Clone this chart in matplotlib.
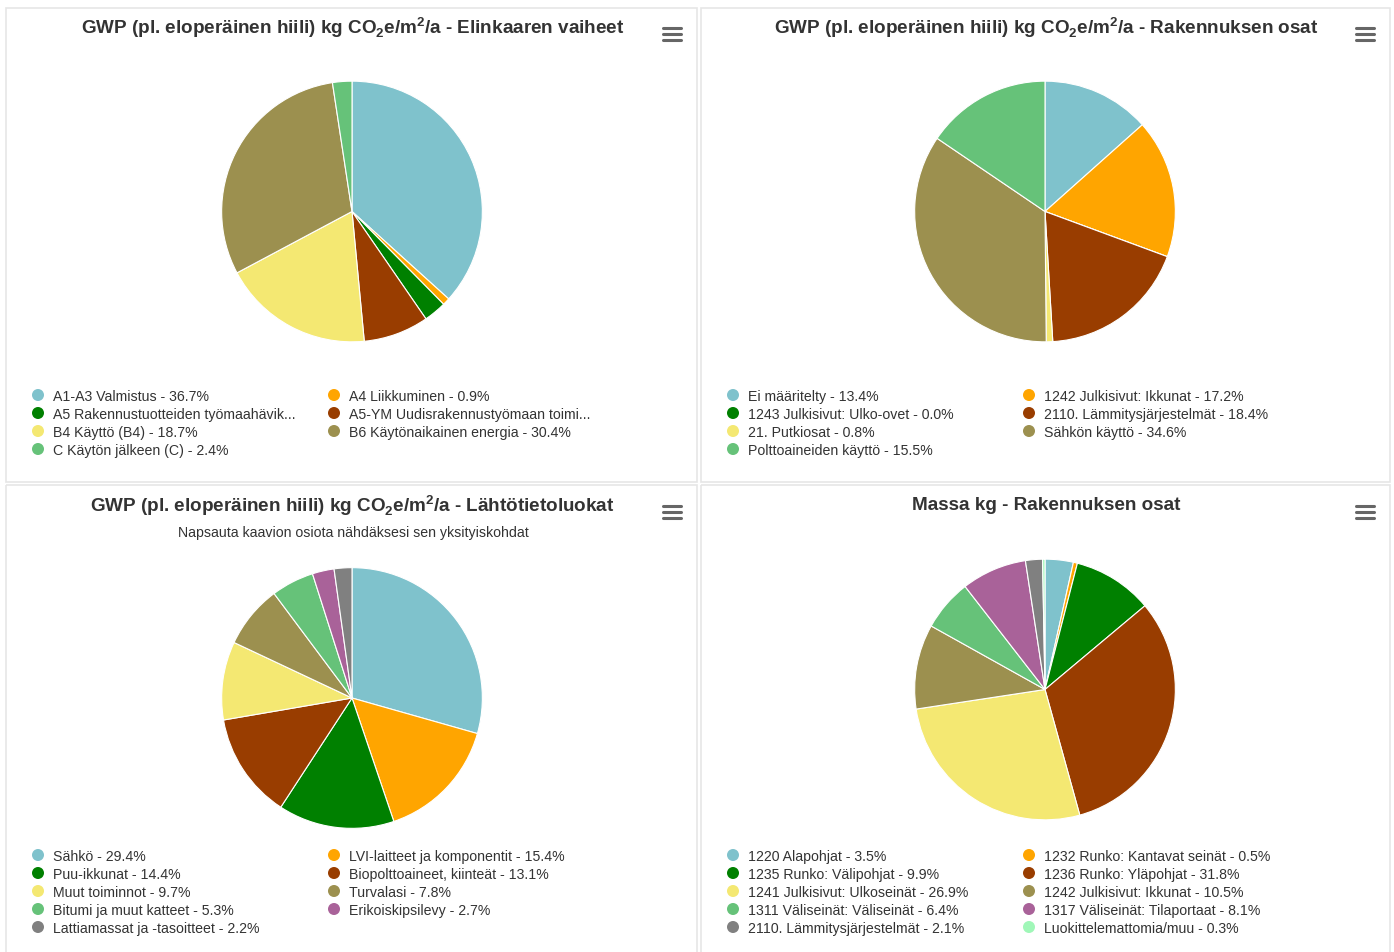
import matplotlib
matplotlib.use('Agg')
import matplotlib.pyplot as plt
from matplotlib.patches import Circle, Rectangle

plt.rcParams['font.family'] = ['Liberation Sans', 'DejaVu Sans']
plt.rcParams['mathtext.fontset'] = 'custom'
plt.rcParams['mathtext.rm'] = 'Liberation Sans'
plt.rcParams['mathtext.bf'] = 'Liberation Sans:bold'

# slice colours, same order in every chart
colors = ['#7fc2cc', '#ffa500', '#008000', '#993d00', '#f4e872',
          '#9c904f', '#66c279', '#a96299', '#808080', '#a0f7b8']

# GWP - Elinkaaren vaiheet
names1 = ['A1-A3 Valmistus', 'A4 Liikkuminen',
          'A5 Rakennustuotteiden työmaahävik...',
          'A5-YM Uudisrakennustyömaan toimi...',
          'B4 Käyttö (B4)', 'B6 Käytönaikainen energia', 'C Käytön jälkeen (C)']
values1 = [36.7, 0.9, 2.8, 8.1, 18.7, 30.4, 2.4]

# GWP - Rakennuksen osat
names2 = ['Ei määritelty', '1242 Julkisivut: Ikkunat', '1243 Julkisivut: Ulko-ovet',
          '2110. Lämmitysjärjestelmät', '21. Putkiosat', 'Sähkön käyttö',
          'Polttoaineiden käyttö']
values2 = [13.4, 17.2, 0.0, 18.4, 0.8, 34.6, 15.5]

# GWP - Lähtötietoluokat
names3 = ['Sähkö', 'LVI-laitteet ja komponentit', 'Puu-ikkunat',
          'Biopolttoaineet, kiinteät', 'Muut toiminnot', 'Turvalasi',
          'Bitumi ja muut katteet', 'Erikoiskipsilevy', 'Lattiamassat ja -tasoitteet']
values3 = [29.4, 15.4, 14.4, 13.1, 9.7, 7.8, 5.3, 2.7, 2.2]

# Massa kg - Rakennuksen osat
names4 = ['1220 Alapohjat', '1232 Runko: Kantavat seinät', '1235 Runko: Välipohjat',
          '1236 Runko: Yläpohjat', '1241 Julkisivut: Ulkoseinät',
          '1242 Julkisivut: Ikkunat', '1311 Väliseinät: Väliseinät',
          '1317 Väliseinät: Tilaportaat', '2110. Lämmitysjärjestelmät',
          'Luokittelemattomia/muu']
values4 = [3.5, 0.5, 9.9, 31.8, 26.9, 10.5, 6.4, 8.1, 2.1, 0.3]

gwp = r'GWP (pl. eloperäinen hiili) kg CO$_\mathbf{2}$e/m$^\mathbf{2}$/a'
titles = [gwp + ' - Elinkaaren vaiheet',
          gwp + ' - Rakennuksen osat',
          gwp + ' - Lähtötietoluokat',
          'Massa kg - Rakennuksen osat']
subtitle3 = 'Napsauta kaavion osiota nähdäksesi sen yksityiskohdat'

W, H = 1394, 953
fig = plt.figure(figsize=(W / 100, H / 100), dpi=100)
bg = fig.add_axes([0, 0, 1, 1])
bg.set_xlim(0, W)
bg.set_ylim(H, 0)
bg.axis('off')

# panels: x0, y0, x1, y1, pie centre, title y, first legend row y
panels = [
    (6, 9, 697, 483, (352, 212.5), 28, 396),
    (701, 9, 1390, 483, (1045, 212.5), 28, 396),
    (6, 486, 697, 960, (352, 699), 506, 856),
    (701, 486, 1390, 960, (1045, 690.5), 506, 856),
]
data = [(names1, values1), (names2, values2), (names3, values3), (names4, values4)]
R = 131

for i, (x0, y0, x1, y1, (cx, cy), ty, ly) in enumerate(panels):
    bg.add_patch(Rectangle((x0, y0), x1 - x0, y1 - y0, fill=False,
                           edgecolor='#e6e6e6', linewidth=1.2))
    mid = (x0 + x1) / 2 + 1
    bg.text(mid, ty, titles[i], ha='center', va='center', fontsize=13.6,
            fontweight='bold', color='#333333')
    # menu icon
    hx = x1 - 25
    for dy in (-6, 0, 6):
        bg.plot([hx - 9, hx + 9], [ty + 7 + dy, ty + 7 + dy], color='#666666',
                linewidth=2.2, solid_capstyle='round')

    names, values = data[i]
    ax = fig.add_axes([(cx - R) / W, 1 - (cy + R) / H, 2 * R / W, 2 * R / H])
    ax.pie(values, colors=colors[:len(values)], startangle=90, counterclock=False,
           wedgeprops=dict(edgecolor='white', linewidth=0.8))
    ax.set_xlim(-1.005, 1.005)
    ax.set_ylim(-1.005, 1.005)
    ax.set_aspect('equal')
    ax.axis('off')

    # legend in two columns, filled row by row
    for k, (n, v) in enumerate(zip(names, values)):
        col, row = k % 2, k // 2
        mx = x0 + 32 + col * 296
        my = ly + row * 18
        bg.add_patch(Circle((mx, my), 6, color=colors[k], linewidth=0))
        label = n if n.endswith('...') else f'{n} - {v:.1f}%'
        bg.text(mx + 15, my + 1, label, ha='left', va='center', fontsize=10.2,
                color='#333333')

bg.text(353, 533, subtitle3, ha='center', va='center', fontsize=10.2, color='#333333')

fig.savefig('out.png', dpi=100)
